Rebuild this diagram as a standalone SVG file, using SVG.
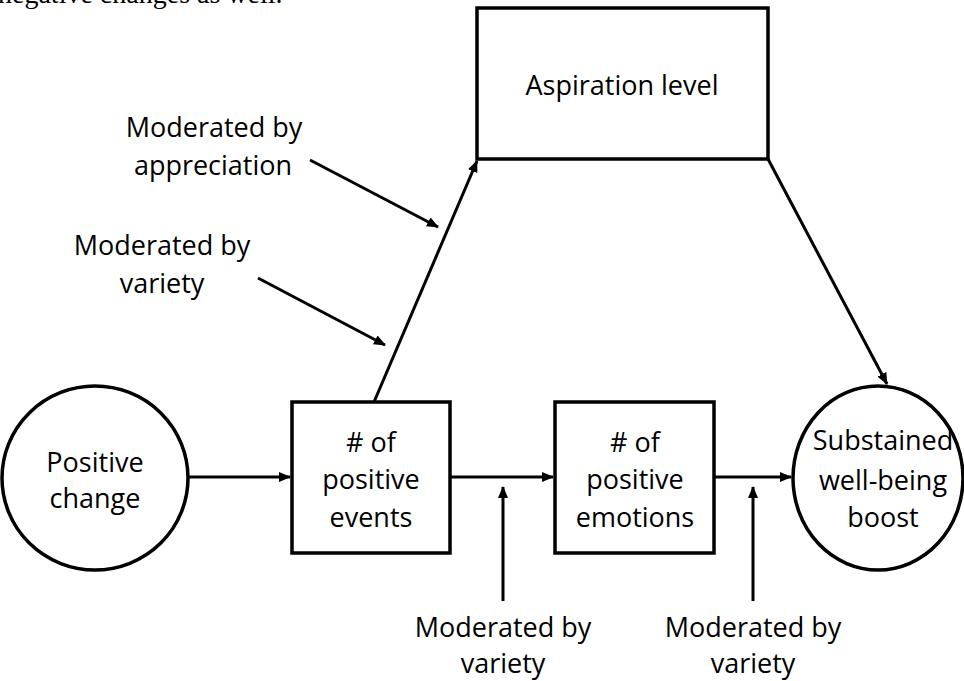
<svg xmlns="http://www.w3.org/2000/svg" width="964" height="681" viewBox="0 0 964 681">
<style>
.t{font-family:"Open Sans","Noto Sans",sans-serif;font-size:27px;fill:#000;text-anchor:middle}
.s{fill:#fff;stroke:#000;stroke-width:3.5}
.c{stroke:#000;stroke-width:3;fill:none}
</style>
<defs>
<marker id="ah" markerWidth="12" markerHeight="10" refX="11" refY="5" orient="auto" markerUnits="userSpaceOnUse">
<path d="M0,0 L12,5 L0,10 Z" fill="#000"/>
</marker>
</defs>
<rect width="964" height="681" fill="#fff"/>
<text x="-2" y="3" style="font-family:'Liberation Serif',serif;font-size:28px">negative changes as well.</text>
<g id="connectors">
<line class="c" x1="188" y1="477" x2="290" y2="477" marker-end="url(#ah)"/>
<line class="c" x1="450" y1="477" x2="553" y2="477" marker-end="url(#ah)"/>
<line class="c" x1="714" y1="477" x2="791" y2="477" marker-end="url(#ah)"/>
<line class="c" x1="374" y1="402" x2="477" y2="161" marker-end="url(#ah)"/>
<line class="c" x1="768" y1="159" x2="887" y2="384" marker-end="url(#ah)"/>
<line class="c" x1="310" y1="160" x2="438" y2="227" marker-end="url(#ah)"/>
<line class="c" x1="258" y1="278" x2="385" y2="345" marker-end="url(#ah)"/>
<line class="c" x1="503" y1="601" x2="503" y2="487" marker-end="url(#ah)"/>
<line class="c" x1="753" y1="601" x2="753" y2="487" marker-end="url(#ah)"/>
</g>
<g id="positive-change">
<ellipse class="s" cx="95" cy="478" rx="93" ry="92"/>
<text class="t" x="95" y="472">Positive</text>
<text class="t" x="95" y="508">change</text>
</g>
<g id="positive-events">
<rect class="s" x="292" y="402" width="158" height="151"/>
<text class="t" x="371" y="452"># of</text>
<text class="t" x="371" y="489">positive</text>
<text class="t" x="371" y="527">events</text>
</g>
<g id="positive-emotions">
<rect class="s" x="555" y="402" width="159" height="151"/>
<text class="t" x="635" y="452"># of</text>
<text class="t" x="635" y="489">positive</text>
<text class="t" x="635" y="527">emotions</text>
</g>
<g id="wellbeing">
<ellipse class="s" cx="878" cy="478" rx="85" ry="92"/>
<text class="t" x="883" y="450">Substained</text>
<text class="t" x="883" y="490">well-being</text>
<text class="t" x="883" y="527">boost</text>
</g>
<g id="aspiration">
<rect class="s" x="477" y="8" width="291" height="151"/>
<text class="t" x="622" y="95">Aspiration level</text>
</g>
<g id="mod-appreciation">
<text class="t" x="214" y="137">Moderated by</text>
<text class="t" x="213" y="175">appreciation</text>
</g>
<g id="mod-variety-1">
<text class="t" x="162" y="255">Moderated by</text>
<text class="t" x="162" y="293">variety</text>
</g>
<g id="mod-variety-2">
<text class="t" x="503" y="637">Moderated by</text>
<text class="t" x="503" y="673">variety</text>
</g>
<g id="mod-variety-3">
<text class="t" x="753" y="637">Moderated by</text>
<text class="t" x="753" y="673">variety</text>
</g>
</svg>
